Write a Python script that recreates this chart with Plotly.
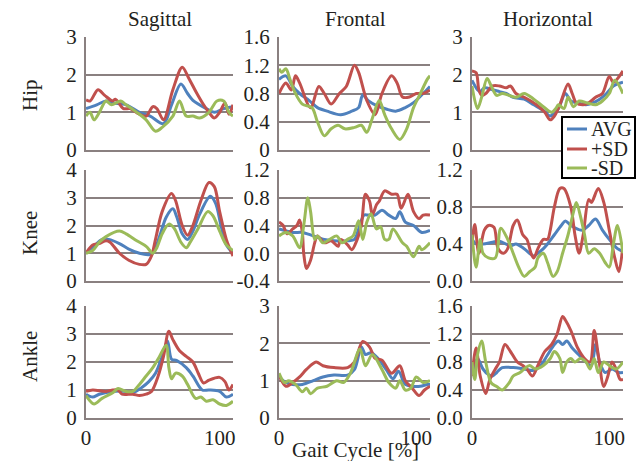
import plotly.graph_objects as go

# ---------------- data ----------------
rows = ["Hip", "Knee", "Ankle"]
cols = ["Sagittal", "Frontal", "Horizontal"]
series_names = ["AVG", "+SD", "-SD"]
x_label = "Gait Cycle [%]"
x_tickvals = [0, 100]

# Hip - Sagittal
hip_sag_avg_x = [0, 8, 15, 20, 30, 40, 48, 58, 64, 71, 76, 80, 90, 96, 103, 110]
hip_sag_avg_y = [1.1, 1.2, 1.3, 1.25, 1.2, 1.0, 0.9, 0.7, 1.2, 1.75, 1.5, 1.32, 1.1, 1.0, 1.1, 1.15]
hip_sag_pos_x = [0, 3, 9, 14, 20, 22, 28, 33, 40, 45, 50, 53, 58, 65, 72, 77, 83, 88, 92, 96, 100, 104, 107, 110]
hip_sag_pos_y = [1.33, 1.3, 1.6, 1.45, 1.3, 1.35, 1.1, 1.1, 0.95, 0.9, 1.15, 1.1, 0.8, 1.6, 2.2, 1.9, 1.5, 1.2, 1.0, 0.85, 1.0, 1.25, 0.95, 1.2]
hip_sag_neg_x = [0, 3, 6, 10, 15, 19, 26, 30, 38, 45, 52, 57, 65, 70, 75, 80, 85, 92, 98, 103, 107, 110]
hip_sag_neg_y = [0.9, 1.0, 0.8, 1.0, 1.3, 1.2, 1.3, 1.2, 1.0, 0.8, 0.5, 0.6, 0.9, 1.3, 0.9, 0.9, 0.85, 1.0, 1.3, 1.3, 1.0, 0.9]

# Hip - Frontal
hip_fro_avg_x = [0, 5, 10, 15, 22, 28, 35, 45, 53, 58, 61, 65, 72, 78, 85, 92, 98, 105, 110]
hip_fro_avg_y = [1.0, 1.05, 0.9, 0.8, 0.7, 0.6, 0.55, 0.5, 0.55, 0.6, 0.78, 0.7, 0.62, 0.58, 0.55, 0.6, 0.67, 0.8, 0.9]
hip_fro_pos_x = [0, 5, 9, 12, 15, 23, 29, 33, 38, 44, 49, 55, 58, 64, 70, 75, 82, 86, 90, 95, 100, 105, 110]
hip_fro_pos_y = [0.8, 0.95, 0.85, 1.05, 0.95, 0.6, 0.9, 0.8, 0.65, 0.8, 0.9, 1.2, 1.1, 0.7, 0.5, 0.8, 1.05, 0.95, 0.75, 0.75, 0.8, 0.8, 0.85]
hip_fro_neg_x = [0, 2, 5, 8, 12, 17, 24, 28, 33, 38, 43, 48, 55, 60, 64, 68, 73, 77, 82, 88, 93, 98, 103, 108, 110]
hip_fro_neg_y = [1.15, 1.1, 1.15, 1.0, 0.8, 0.65, 0.6, 0.4, 0.2, 0.3, 0.35, 0.3, 0.32, 0.35, 0.25, 0.45, 0.7, 0.5, 0.3, 0.15, 0.3, 0.6, 0.8, 1.0, 1.05]

# Hip - Horizontal
hip_hor_avg_x = [0, 4, 6, 9, 15, 20, 25, 30, 38, 45, 52, 57, 60, 63, 68, 72, 77, 83, 88, 93, 98, 103, 110]
hip_hor_avg_y = [1.85, 1.6, 1.55, 1.65, 1.6, 1.55, 1.5, 1.4, 1.35, 1.2, 1.05, 0.9, 1.0, 1.1, 1.5, 1.3, 1.25, 1.2, 1.25, 1.35, 1.5, 1.7, 1.8]
hip_hor_pos_x = [0, 3, 5, 7, 10, 15, 20, 25, 28, 32, 38, 47, 53, 57, 60, 64, 70, 73, 76, 81, 85, 90, 95, 100, 103, 110]
hip_hor_pos_y = [2.1, 2.05, 1.6, 1.45, 1.5, 1.7, 1.7, 1.65, 1.7, 1.5, 1.4, 1.2, 1.0, 0.8, 0.9, 1.2, 1.75, 1.5, 1.25, 1.2, 1.25, 1.4, 1.5, 1.95, 1.8, 2.1]
hip_hor_neg_x = [0, 4, 7, 11, 14, 18, 22, 27, 32, 38, 45, 52, 58, 61, 63, 67, 70, 74, 78, 84, 90, 95, 100, 104, 110]
hip_hor_neg_y = [1.7, 1.1, 1.4, 1.9, 1.7, 1.45, 1.5, 1.45, 1.4, 1.5, 1.35, 1.15, 1.0, 1.1, 1.2, 1.1, 1.4, 1.15, 1.3, 1.25, 1.2, 1.3, 1.5, 1.85, 1.5]

# Knee - Sagittal
knee_sag_avg_x = [0, 5, 12, 17, 25, 32, 40, 47, 50, 55, 60, 65, 68, 72, 76, 80, 85, 93, 97, 101, 105, 110]
knee_sag_avg_y = [1.0, 1.2, 1.5, 1.5, 1.35, 1.15, 1.0, 0.95, 1.0, 1.6, 2.3, 2.6, 2.3, 1.7, 1.5, 1.8, 2.4, 3.05, 2.8, 2.0, 1.3, 1.0]
knee_sag_pos_x = [0, 5, 10, 15, 18, 25, 32, 40, 45, 49, 52, 57, 64, 67, 72, 76, 80, 86, 92, 96, 100, 105, 110]
knee_sag_pos_y = [1.0, 1.3, 1.35, 1.45, 1.4, 1.0, 0.75, 0.6, 0.6, 0.9, 1.5, 2.5, 3.15, 2.9, 2.0, 1.65, 2.0, 2.9, 3.55, 3.4, 2.5, 1.5, 0.9]
knee_sag_neg_x = [0, 5, 10, 15, 25, 30, 38, 45, 50, 53, 57, 62, 66, 71, 75, 78, 84, 91, 95, 100, 105, 110]
knee_sag_neg_y = [1.0, 1.1, 1.4, 1.6, 1.8, 1.7, 1.45, 1.25, 1.0, 1.2, 1.7, 2.05, 1.9, 1.4, 1.2, 1.4, 1.9, 2.5, 2.35, 1.8, 1.3, 1.1]

# Knee - Frontal
knee_fro_avg_x = [0, 10, 17, 25, 33, 40, 50, 55, 58, 62, 65, 70, 75, 80, 85, 88, 92, 98, 104, 110]
knee_fro_avg_y = [0.35, 0.3, 0.3, 0.25, 0.2, 0.18, 0.18, 0.2, 0.35, 0.55, 0.55, 0.55, 0.62, 0.55, 0.5, 0.6, 0.45, 0.4, 0.3, 0.33]
knee_fro_pos_x = [0, 3, 6, 10, 13, 15, 17, 18, 20, 23, 26, 28, 33, 38, 43, 45, 50, 53, 57, 60, 63, 66, 68, 71, 73, 77, 82, 86, 89, 94, 98, 102, 105, 110]
knee_fro_pos_y = [0.45, 0.4, 0.28, 0.35, 0.4, 0.48, 0.3, 0.0, -0.22, -0.1, 0.15, 0.25, 0.15, 0.18, 0.1, 0.2, 0.12, 0.05, 0.2, 0.4, 0.85, 0.75, 0.55, 0.7, 0.75, 0.9, 0.85, 0.85, 0.65, 0.85, 0.6, 0.5, 0.55, 0.55]
knee_fro_neg_x = [0, 5, 10, 15, 18, 21, 23, 26, 28, 32, 37, 42, 46, 50, 54, 58, 61, 64, 67, 71, 74, 77, 80, 83, 90, 93, 98, 102, 104, 110]
knee_fro_neg_y = [0.25, 0.3, 0.25, 0.08, 0.4, 0.8, 0.6, 0.2, 0.25, 0.15, 0.2, 0.25, 0.15, 0.2, 0.25, 0.47, 0.2, 0.45, 0.57, 0.35, 0.38, 0.2, 0.2, 0.35, 0.15, 0.1, -0.05, 0.1, 0.05, 0.15]

# Knee - Horizontal
knee_hor_avg_x = [0, 3, 8, 15, 20, 28, 32, 38, 45, 48, 52, 55, 60, 65, 68, 72, 80, 85, 90, 95, 100, 106, 110]
knee_hor_avg_y = [0.45, 0.4, 0.4, 0.42, 0.43, 0.38, 0.4, 0.35, 0.27, 0.3, 0.35, 0.4, 0.5, 0.6, 0.65, 0.6, 0.55, 0.6, 0.67, 0.55, 0.45, 0.35, 0.32]
knee_hor_pos_x = [0, 2, 5, 9, 12, 16, 19, 23, 26, 30, 33, 37, 40, 43, 45, 48, 52, 55, 57, 60, 64, 67, 72, 75, 78, 81, 85, 87, 92, 96, 100, 104, 107, 110]
knee_hor_pos_y = [0.4, 0.61, 0.3, 0.55, 0.6, 0.58, 0.35, 0.3, 0.35, 0.6, 0.66, 0.5, 0.45, 0.3, 0.25, 0.35, 0.45, 0.45, 0.55, 0.8, 1.0, 1.0, 0.8, 0.5, 0.3, 0.5, 0.88, 0.85, 1.0, 0.85, 0.55, 0.25, 0.1, 0.4]
knee_hor_neg_x = [0, 3, 6, 8, 12, 17, 21, 26, 30, 34, 38, 42, 46, 48, 52, 55, 59, 62, 66, 70, 74, 76, 79, 82, 85, 89, 93, 97, 100, 103, 106, 110]
knee_hor_neg_y = [0.5, 0.15, 0.45, 0.3, 0.25, 0.25, 0.57, 0.45, 0.3, 0.15, 0.05, 0.1, 0.15, 0.25, 0.3, 0.2, 0.05, 0.1, 0.3, 0.5, 0.75, 0.85, 0.7, 0.5, 0.3, 0.35, 0.3, 0.2, 0.15, 0.4, 0.6, 0.3]

# Ankle - Sagittal
ank_sag_avg_x = [0, 5, 10, 20, 30, 35, 42, 47, 52, 57, 61, 64, 68, 75, 80, 87, 92, 100, 105, 110]
ank_sag_avg_y = [0.85, 0.75, 0.85, 0.95, 0.95, 0.9, 1.1, 1.3, 1.6, 2.2, 2.75, 2.1, 2.05, 1.8, 1.5, 1.0, 1.0, 0.95, 0.75, 0.85]
ank_sag_pos_x = [0, 5, 15, 20, 24, 27, 35, 40, 45, 49, 54, 58, 62, 65, 70, 75, 80, 84, 88, 92, 100, 104, 107, 110]
ank_sag_pos_y = [0.95, 1.0, 0.95, 1.0, 1.0, 0.85, 0.85, 0.8, 0.85, 0.95, 1.5, 2.2, 3.1, 2.8, 2.4, 2.2, 2.0, 1.6, 1.25, 1.35, 1.45, 1.3, 1.0, 1.2]
ank_sag_neg_x = [0, 6, 12, 20, 24, 30, 35, 40, 45, 50, 55, 60, 62, 64, 67, 72, 76, 82, 86, 90, 95, 100, 105, 110]
ank_sag_neg_y = [0.8, 0.5, 0.7, 0.9, 1.05, 0.95, 0.95, 1.2, 1.5, 1.8, 2.2, 2.6, 1.8, 1.4, 1.6, 1.5, 1.2, 0.7, 0.75, 0.6, 0.65, 0.5, 0.45, 0.6]

# Ankle - Frontal
ank_fro_avg_x = [0, 5, 10, 17, 25, 32, 40, 50, 55, 60, 63, 67, 72, 78, 83, 87, 92, 97, 103, 108, 110]
ank_fro_avg_y = [1.1, 0.95, 0.9, 0.9, 1.0, 1.1, 1.15, 1.15, 1.3, 1.9, 1.7, 1.75, 1.6, 1.3, 1.05, 1.25, 0.9, 0.85, 0.85, 0.9, 0.9]
ank_fro_pos_x = [0, 5, 10, 15, 20, 27, 32, 40, 50, 55, 61, 66, 70, 75, 82, 88, 92, 97, 102, 106, 110]
ank_fro_pos_y = [1.15, 0.85, 0.95, 1.1, 1.3, 1.5, 1.4, 1.35, 1.35, 1.5, 2.05, 1.9, 1.6, 1.55, 1.2, 1.4, 1.0, 0.8, 0.6, 0.75, 0.85]
ank_fro_neg_x = [0, 4, 7, 12, 17, 20, 23, 28, 35, 42, 47, 52, 59, 63, 68, 75, 80, 85, 88, 92, 96, 100, 105, 110]
ank_fro_neg_y = [1.2, 0.95, 1.0, 0.9, 0.7, 0.8, 0.65, 0.8, 0.85, 1.0, 0.95, 1.2, 1.85, 1.4, 1.7, 1.3, 0.95, 0.8, 1.0, 0.75, 0.8, 1.1, 0.95, 1.0]

# Ankle - Horizontal
ank_hor_avg_x = [0, 4, 8, 12, 15, 18, 22, 30, 38, 45, 50, 55, 60, 63, 66, 69, 73, 78, 83, 87, 90, 93, 97, 102, 107, 110]
ank_hor_avg_y = [0.6, 0.85, 0.7, 0.62, 0.6, 0.65, 0.72, 0.72, 0.7, 0.68, 0.75, 0.9, 1.05, 1.1, 1.05, 1.1, 1.0, 0.9, 0.8, 0.75, 1.05, 0.8, 0.65, 0.7, 0.65, 0.65]
ank_hor_pos_x = [0, 3, 6, 10, 13, 17, 20, 24, 28, 33, 37, 40, 44, 48, 53, 58, 62, 66, 68, 72, 77, 82, 86, 89, 92, 96, 99, 102, 105, 108, 110]
ank_hor_pos_y = [0.6, 1.0, 0.6, 0.35, 0.55, 0.7, 0.8, 1.05, 0.95, 0.8, 0.75, 0.7, 0.6, 0.75, 0.95, 1.05, 1.2, 1.45, 1.4, 1.25, 1.0, 0.85, 0.8, 1.25, 0.9, 0.45, 0.6, 0.8, 0.7, 0.55, 0.55]
ank_hor_neg_x = [0, 2, 4, 7, 10, 14, 18, 22, 27, 30, 35, 38, 42, 46, 52, 57, 60, 64, 66, 69, 72, 75, 79, 83, 86, 89, 92, 96, 100, 105, 110]
ank_hor_neg_y = [0.8, 0.55, 0.9, 1.1, 0.8, 0.5, 0.45, 0.4, 0.5, 0.6, 0.65, 0.7, 0.75, 0.7, 0.75, 0.85, 0.95, 0.85, 0.65, 0.8, 0.85, 0.8, 0.85, 0.8, 0.7, 0.85, 0.65, 0.8, 0.75, 0.7, 0.8]

# y axis ticks per panel (row-major)
yt_hip_sag = [0, 1, 2, 3]
yt_hip_fro = [0, 0.4, 0.8, 1.2, 1.6]
yt_hip_fro_text = ["0", "0.4", "0.8", "1.2", "1.6"]
yt_hip_hor = [0, 1, 2, 3]
yt_knee_sag = [0, 1, 2, 3, 4]
yt_knee_fro = [-0.4, 0.0, 0.4, 0.8, 1.2]
yt_knee_fro_text = ["-0.4", "0.0", "0.4", "0.8", "1.2"]
yt_knee_hor = [0.0, 0.4, 0.8, 1.2]
yt_knee_hor_text = ["0.0", "0.4", "0.8", "1.2"]
yt_ank_sag = [0, 1, 2, 3, 4]
yt_ank_fro = [0, 1, 2, 3]
yt_ank_hor = [0.0, 0.4, 0.8, 1.2, 1.6]
yt_ank_hor_text = ["0.0", "0.4", "0.8", "1.2", "1.6"]

panels = [
    [(hip_sag_avg_x, hip_sag_avg_y, hip_sag_pos_x, hip_sag_pos_y, hip_sag_neg_x, hip_sag_neg_y, yt_hip_sag, [str(v) for v in yt_hip_sag]),
     (hip_fro_avg_x, hip_fro_avg_y, hip_fro_pos_x, hip_fro_pos_y, hip_fro_neg_x, hip_fro_neg_y, yt_hip_fro, yt_hip_fro_text),
     (hip_hor_avg_x, hip_hor_avg_y, hip_hor_pos_x, hip_hor_pos_y, hip_hor_neg_x, hip_hor_neg_y, yt_hip_hor, [str(v) for v in yt_hip_hor])],
    [(knee_sag_avg_x, knee_sag_avg_y, knee_sag_pos_x, knee_sag_pos_y, knee_sag_neg_x, knee_sag_neg_y, yt_knee_sag, [str(v) for v in yt_knee_sag]),
     (knee_fro_avg_x, knee_fro_avg_y, knee_fro_pos_x, knee_fro_pos_y, knee_fro_neg_x, knee_fro_neg_y, yt_knee_fro, yt_knee_fro_text),
     (knee_hor_avg_x, knee_hor_avg_y, knee_hor_pos_x, knee_hor_pos_y, knee_hor_neg_x, knee_hor_neg_y, yt_knee_hor, yt_knee_hor_text)],
    [(ank_sag_avg_x, ank_sag_avg_y, ank_sag_pos_x, ank_sag_pos_y, ank_sag_neg_x, ank_sag_neg_y, yt_ank_sag, [str(v) for v in yt_ank_sag]),
     (ank_fro_avg_x, ank_fro_avg_y, ank_fro_pos_x, ank_fro_pos_y, ank_fro_neg_x, ank_fro_neg_y, yt_ank_fro, [str(v) for v in yt_ank_fro]),
     (ank_hor_avg_x, ank_hor_avg_y, ank_hor_pos_x, ank_hor_pos_y, ank_hor_neg_x, ank_hor_neg_y, yt_ank_hor, yt_ank_hor_text)],
]

# ---------------- style ----------------
W, H = 636, 461
colors = ["#4f81bd", "#c0504d", "#9bbb59"]
grid_col = "#8a8080"
txt_col = "#231f20"
FONT = "Liberation Serif, Times New Roman, serif"
FS = 21

col_px = [(86, 233), (279, 430), (472, 623)]
row_px = [(37, 150), (170, 281), (306, 418)]

fig = go.Figure()

for r in range(3):
    for c in range(3):
        idx = r * 3 + c + 1
        xa = "x" if idx == 1 else f"x{idx}"
        ya = "y" if idx == 1 else f"y{idx}"
        ax_x = "xaxis" if idx == 1 else f"xaxis{idx}"
        ax_y = "yaxis" if idx == 1 else f"yaxis{idx}"
        d = panels[r][c]
        for k in range(3):
            fig.add_trace(go.Scatter(
                x=d[2 * k], y=d[2 * k + 1], mode="lines",
                line=dict(color=colors[k], width=3, shape="spline", smoothing=0.9),
                name=series_names[k], showlegend=False, xaxis=xa, yaxis=ya,
                cliponaxis=True))
        x0, x1 = col_px[c]
        y0, y1 = row_px[r]
        yt, ytt = d[6], d[7]
        fig.layout[ax_x] = dict(
            domain=[x0 / W, x1 / W], range=[0, 110], anchor=ya, automargin=False,
            showgrid=False, zeroline=False, showline=True, linecolor=grid_col, linewidth=2,
            tickvals=x_tickvals if r == 2 else [], ticktext=[str(v) for v in x_tickvals] if r == 2 else [],
            showticklabels=(r == 2), ticks="", tickfont=dict(family=FONT, size=FS, color=txt_col))
        fig.layout[ax_y] = dict(
            domain=[1 - y1 / H, 1 - y0 / H], range=[yt[0], yt[-1]], anchor=xa, automargin=False,
            showgrid=True, gridcolor=grid_col, gridwidth=2, zeroline=False,
            showline=True, linecolor=grid_col, linewidth=2,
            tickvals=yt, ticktext=ytt, ticks="outside", ticklen=3, tickcolor="rgba(0,0,0,0)",
            tickfont=dict(family=FONT, size=FS, color=txt_col))

annotations = []
col_titles_x = [160, 355, 548]
for c in range(3):
    annotations.append(dict(text=cols[c], x=col_titles_x[c] / W, y=1 - 19 / H, xref="paper", yref="paper",
                            showarrow=False, font=dict(family=FONT, size=FS, color=txt_col),
                            xanchor="center", yanchor="middle"))
row_labels_y = [95, 233, 357]
for r in range(3):
    annotations.append(dict(text=rows[r], x=30 / W, y=1 - row_labels_y[r] / H, xref="paper", yref="paper",
                            showarrow=False, textangle=-90, font=dict(family=FONT, size=FS, color=txt_col),
                            xanchor="center", yanchor="middle"))
annotations.append(dict(text=x_label, x=355 / W, y=1 - 450 / H, xref="paper", yref="paper",
                        showarrow=False, font=dict(family=FONT, size=FS, color=txt_col),
                        xanchor="center", yanchor="middle"))

# legend (drawn box)
shapes = [dict(type="rect", xref="paper", yref="paper", x0=562 / W, x1=635 / W,
               y0=1 - 178 / H, y1=1 - 117 / H, line=dict(color="black", width=2), fillcolor="white", layer="above")]
leg_y = [129, 149, 168]
for k in range(3):
    shapes.append(dict(type="line", xref="paper", yref="paper", x0=567 / W, x1=587 / W,
                       y0=1 - leg_y[k] / H, y1=1 - leg_y[k] / H, line=dict(color=colors[k], width=3), layer="above"))
    annotations.append(dict(text=series_names[k], x=589 / W, y=1 - leg_y[k] / H, xref="paper", yref="paper",
                            showarrow=False, font=dict(family=FONT, size=20, color=txt_col),
                            xanchor="left", yanchor="middle"))

fig.update_layout(width=W, height=H, margin=dict(l=0, r=0, t=0, b=0, autoexpand=False),
                  paper_bgcolor="white", plot_bgcolor="white",
                  annotations=annotations, shapes=shapes, showlegend=False)

fig.write_html("out.html",
               config={"displayModeBar": False, "staticPlot": True},
               post_script="document.body.style.margin='0px';document.body.style.padding='0px';document.body.style.overflow='hidden';")
